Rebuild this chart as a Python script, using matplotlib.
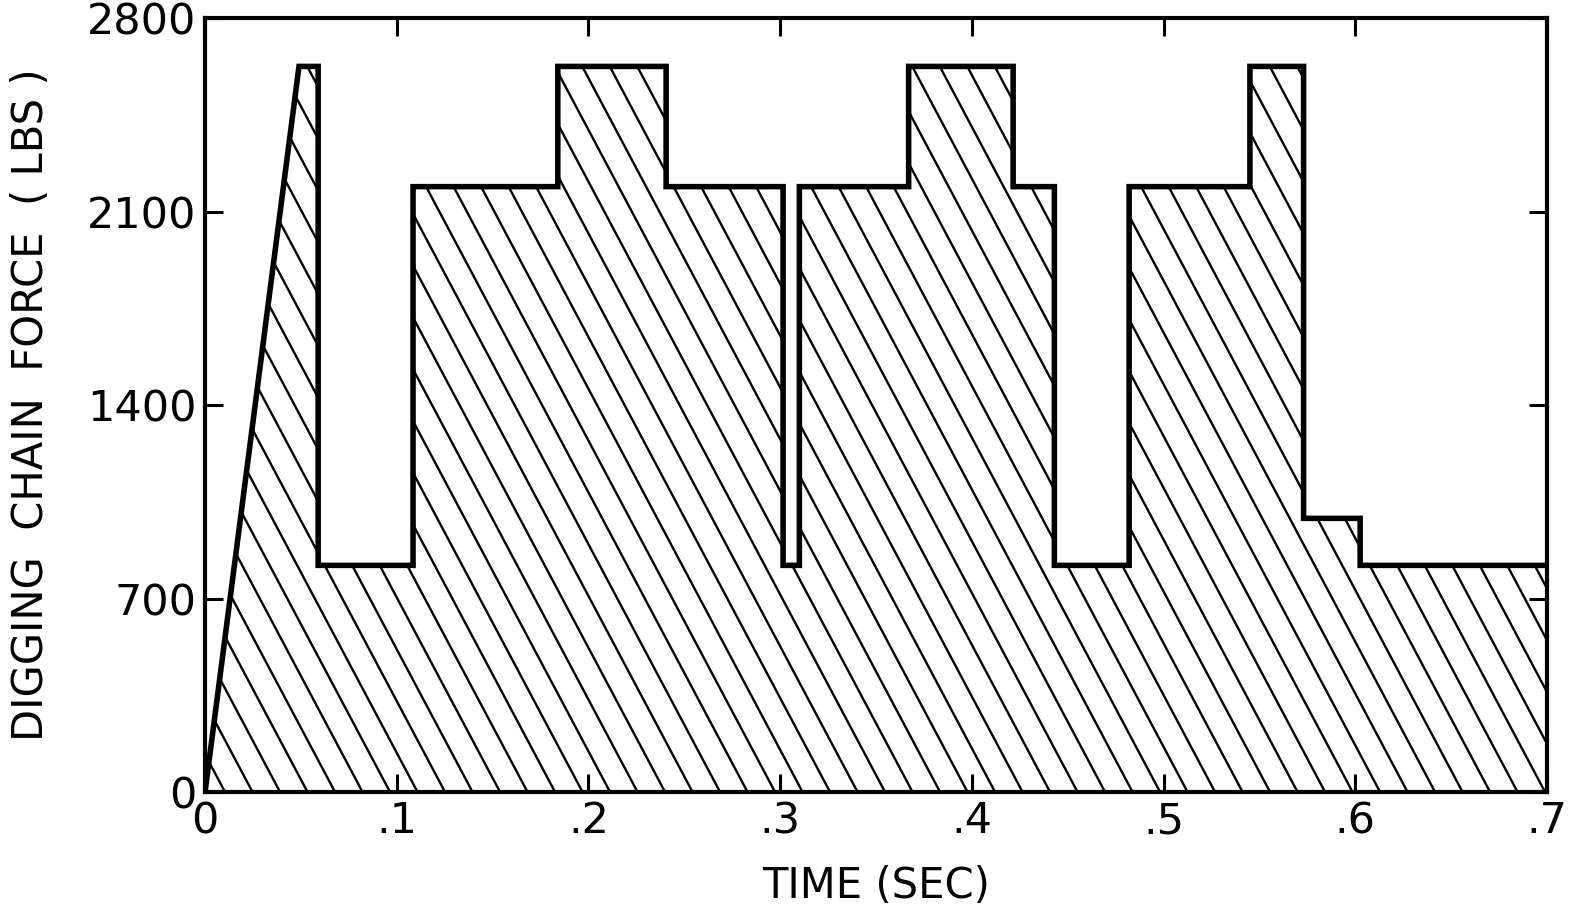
import numpy as np
import matplotlib
matplotlib.use("Agg")
import matplotlib.pyplot as plt
from matplotlib.collections import LineCollection

# digging chain force vs time
step_times = [0.049, 0.059, 0.1085, 0.184, 0.2405, 0.3015, 0.310, 0.367,
              0.4215, 0.443, 0.482, 0.545, 0.573, 0.6025, 0.7]
step_levels = [2625, 820, 2190, 2625, 2190, 820, 2190, 2625,
               2190, 820, 2190, 2625, 990, 820]

xticks = [0, 0.1, 0.2, 0.3, 0.4, 0.5, 0.6, 0.7]
xtick_labels = ["0", ".1", ".2", ".3", ".4", ".5", ".6", ".7"]
yticks = [0, 700, 1400, 2100, 2800]
ytick_labels = ["0", "700", "1400", "2100", "2800"]

# outline: linear ramp from zero up to the first peak, then a staircase
t = [0.0]
f = [0.0]
for i, lev in enumerate(step_levels):
    t += [step_times[i], step_times[i + 1]]
    f += [lev, lev]

plt.rcParams["font.family"] = "DejaVu Sans"

fig = plt.figure(figsize=(15.7, 9.11), dpi=100)
ax = fig.add_axes([0.1306, 0.1306, 0.8548, 0.8496])
ax.set_xlim(0, 0.7)
ax.set_ylim(0, 2800)

# area under the curve, used as a clip region for the hatching
poly = ax.fill(t + [t[-1], 0.0], f + [0.0, 0.0], facecolor="white",
               edgecolor="none", zorder=1)[0]

# diagonal hatch, steeper than matplotlib's built-in 45 degree pattern
ax_w, ax_h = 1342.0, 774.0
run = 0.531 * ax_h / ax_w          # horizontal shift (axes units) over full height
gap = 27.5 / ax_w
starts = np.arange(0.0149 - 40 * gap, 1.0 + run + gap, gap)
segs = [[(x0 - run, 1.0), (x0, 0.0)] for x0 in starts]
hatch = LineCollection(segs, colors="black", linewidths=1.7,
                       transform=ax.transAxes, zorder=2)
hatch.set_clip_path(poly)
ax.add_collection(hatch)

ax.plot(t, f, color="black", lw=4.0, solid_joinstyle="miter", zorder=3)

for s in ax.spines.values():
    s.set_linewidth(3.0)

ax.set_xticks(xticks, xtick_labels)
ax.set_yticks(yticks, ytick_labels)
ax.tick_params(direction="in", length=13, width=2.2, labelsize=31,
               top=True, right=True, pad=6)

ax.set_xlabel("TIME (SEC)", fontsize=30)
ax.xaxis.set_label_coords(0.5, -0.094)
ax.xaxis.label.set_va("top")
ax.set_ylabel("DIGGING  CHAIN  FORCE  ( LBS )", fontsize=30)
ax.yaxis.set_label_coords(-0.114, 0.5)

fig.savefig("out.png", dpi=100)
